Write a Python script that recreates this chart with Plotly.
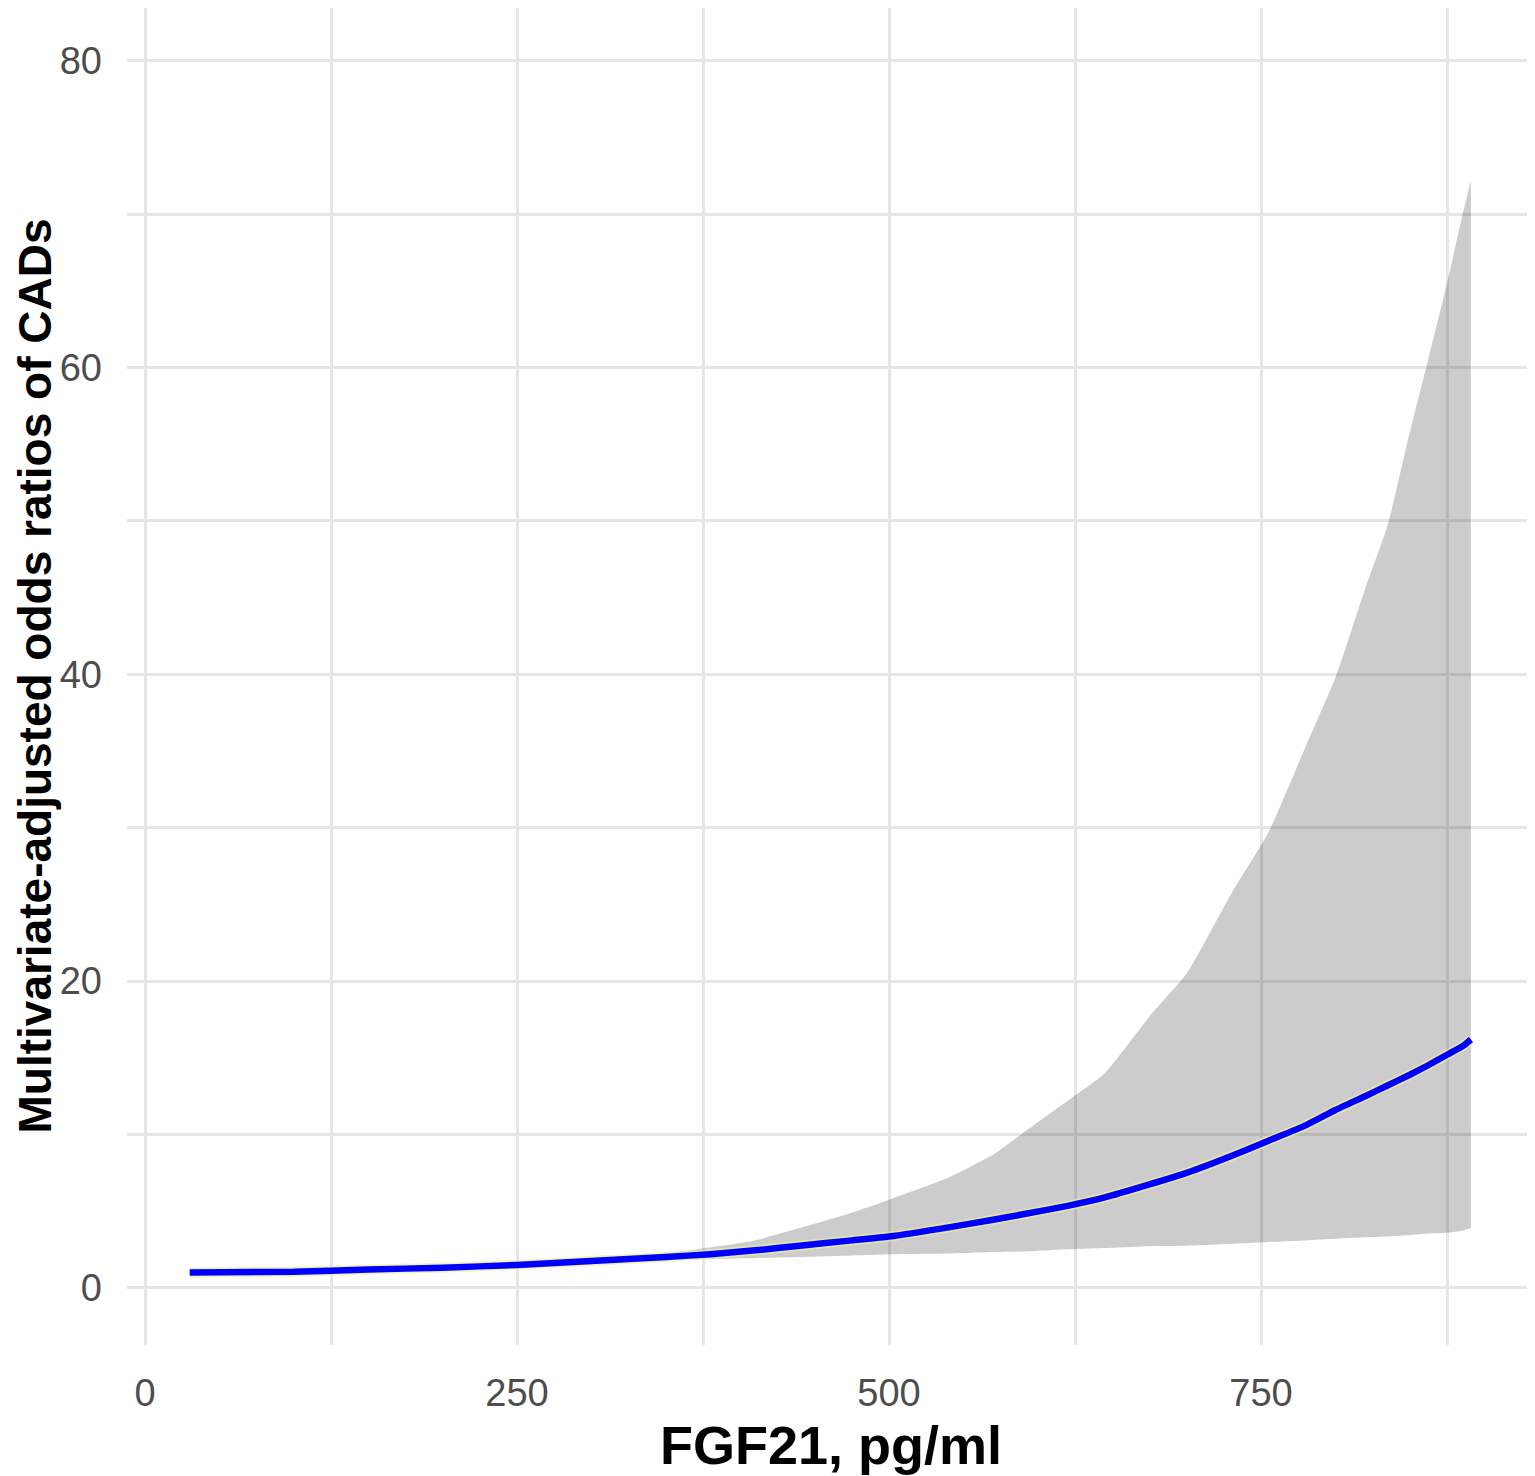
import plotly.graph_objects as go

# ---- data ----
fgf21 = [30, 100, 150, 200, 250, 300, 350, 380, 410, 440, 475, 500, 540, 570, 590,
         620, 645, 675, 700, 730, 755, 780, 800, 820, 835, 850, 862, 875, 886, 891]
odds_ratio = [1.0, 1.05, 1.2, 1.32, 1.5, 1.75, 2.02, 2.2, 2.45, 2.75, 3.1, 3.35, 3.95, 4.45, 4.8,
              5.35, 5.9, 6.75, 7.5, 8.6, 9.6, 10.6, 11.6, 12.5, 13.2, 13.9, 14.5, 15.2, 15.8, 16.2]
ci_upper = [1.0, 1.07, 1.24, 1.38, 1.58, 1.88, 2.25, 2.65, 3.1, 3.9, 4.9, 5.75, 7.2, 8.7, 10.1,
            12.2, 14.0, 17.7, 20.5, 25.7, 29.7, 35.3, 39.8, 45.6, 49.7, 55.8, 60.4, 65.5, 70.2, 72.2]
ci_lower = [1.0, 1.03, 1.16, 1.27, 1.42, 1.6, 1.78, 1.88, 1.95, 2.02, 2.12, 2.2, 2.25, 2.35, 2.37,
            2.52, 2.6, 2.72, 2.75, 2.88, 3.0, 3.1, 3.2, 3.3, 3.35, 3.45, 3.55, 3.6, 3.75, 3.9]

x_ticks = [0, 250, 500, 750]
y_ticks = [0, 20, 40, 60, 80]

x_title = "FGF21, pg/ml"
y_title = "Multivariate-adjusted odds ratios of CADs"

FONT = "Arial, 'Liberation Sans', sans-serif"
GRID = "#e6e6e6"

fig = go.Figure()

fig.add_trace(go.Scatter(x=fgf21, y=ci_lower, mode="lines",
                         line=dict(width=0, color="rgba(0,0,0,0)", shape="spline", smoothing=0.5),
                         hoverinfo="skip", showlegend=False))
fig.add_trace(go.Scatter(x=fgf21, y=ci_upper, mode="lines",
                         line=dict(width=0, color="rgba(0,0,0,0)", shape="spline", smoothing=0.5),
                         fill="tonexty", fillcolor="rgba(0,0,0,0.2)",
                         hoverinfo="skip", showlegend=False))
# pale halo under the curve
fig.add_trace(go.Scatter(x=fgf21, y=odds_ratio, mode="lines",
                         line=dict(width=10, color="rgba(242,236,150,0.7)", shape="spline", smoothing=0.5),
                         hoverinfo="skip", showlegend=False))
fig.add_trace(go.Scatter(x=fgf21, y=odds_ratio, mode="lines",
                         line=dict(width=6.5, color="#0000ff", shape="spline", smoothing=0.5),
                         showlegend=False))

fig.update_layout(
    width=1527, height=1468,
    margin=dict(l=119, r=0, t=0, b=131),
    paper_bgcolor="white", plot_bgcolor="white",
    font=dict(family=FONT),
    showlegend=False,
    annotations=[
        dict(text=f"<b>{x_title}</b>", xref="paper", yref="paper",
             x=0.5, y=0, yshift=-100, xanchor="center", yanchor="middle",
             showarrow=False, font=dict(size=54, color="black", family=FONT)),
        dict(text=f"<b>{y_title}</b>", xref="paper", yref="paper",
             x=0, xshift=-93, y=0.5, xanchor="center", yanchor="middle",
             textangle=-90, showarrow=False,
             font=dict(size=46, color="black", family=FONT)),
    ],
)

fig.update_xaxes(
    range=[-12.1, 934.1],
    tickmode="array", tickvals=x_ticks, ticktext=[str(v) for v in x_ticks],
    showgrid=True, gridcolor=GRID, gridwidth=2.5,
    minor=dict(tickmode="linear", tick0=125, dtick=250, showgrid=True,
               gridcolor=GRID, gridwidth=2.5),
    zeroline=False, showline=False, ticks="",
    tickfont=dict(size=38, color="#4d4d4d", family=FONT),
    ticklabelstandoff=22,
)
fig.update_yaxes(
    range=[-3.72, 83.44],
    tickmode="array", tickvals=y_ticks, ticktext=[str(v) for v in y_ticks],
    showgrid=True, gridcolor=GRID, gridwidth=2.5,
    minor=dict(tickmode="linear", tick0=10, dtick=20, showgrid=True,
               gridcolor=GRID, gridwidth=2.5),
    zeroline=False, showline=False, ticks="",
    tickfont=dict(size=38, color="#4d4d4d", family=FONT),
    ticklabelstandoff=24,
)

fig.write_html("out.html")
